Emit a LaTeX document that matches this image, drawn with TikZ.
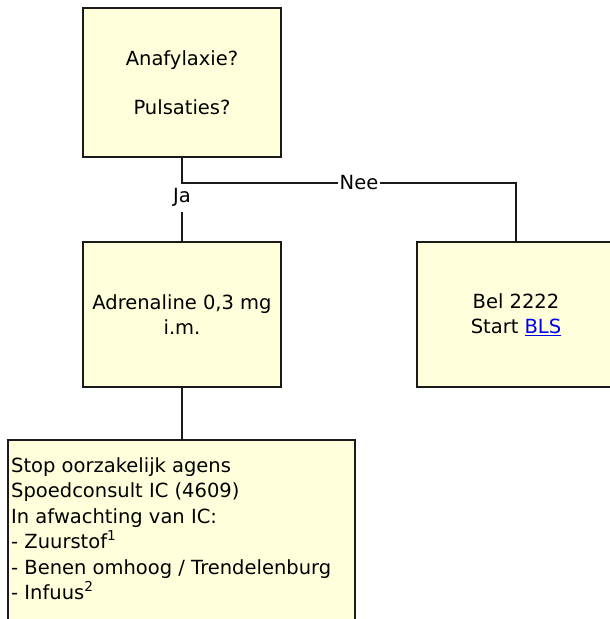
\documentclass[tikz,border=0pt]{standalone}
\usepackage{fontspec}
\setmainfont{DejaVu Sans}
\usetikzlibrary{positioning}
\definecolor{kgeel}{HTML}{FFFFDC}
\definecolor{klijn}{HTML}{1A1A1A}
\definecolor{klink}{HTML}{0000EE}

\begin{document}
\begin{tikzpicture}[x=1pt, y=-1pt,
  blok/.style={draw=klijn, fill=kgeel, line width=1.5pt, minimum width=198pt, inner sep=0pt, align=center, font=\fontsize{19.5}{25.5}\selectfont},
  tekst/.style={inner sep=0pt, align=left, font=\fontsize{19.5}{25.5}\selectfont},
  lijn/.style={draw=klijn, line width=1.4pt},
  antw/.style={fill=white, inner xsep=2pt, inner ysep=0pt, font=\fontsize{19.5}{25.5}\selectfont}]
\useasboundingbox (0,0) rectangle (610,619);
\clip (0,0) rectangle (610,619);
\node[blok, minimum height=149pt] (vraag) at (182,82.5) {Anafylaxie?\\[23.5pt]Pulsaties?};
\node[blok, minimum height=145pt] (adren) at (182,314.5) {Adrenaline 0,3 mg\\i.m.};
\node[blok, minimum height=145pt] (bel) at (516,314.5) {Bel 2222\\Start \textcolor{klink}{\underline{BLS}}};
\node[blok, anchor=north west, minimum width=347pt, minimum height=220pt] (stop) at (7,439) {};
\node[tekst, anchor=north west] (stoptekst) at ([xshift=4pt, yshift=-18pt]stop.north west)
  {Stop oorzakelijk agens\\Spoedconsult IC (4609)\\In afwachting van IC:\\- Zuurstof\textsuperscript{1}\\- Benen omhoog / Trendelenburg\\- Infuus\textsuperscript{2}};
\coordinate (splitsing) at (182,183);
\draw[lijn] (splitsing) -- (adren) node[antw, pos=0.25, minimum height=29pt] (ja) {Ja};
\draw[lijn] (vraag) -- (splitsing) -| (bel) node[antw, pos=0.265] (nee) {Nee};
\draw[lijn] (adren.south) -- (adren.south |- stop.north);
\end{tikzpicture}
\end{document}
